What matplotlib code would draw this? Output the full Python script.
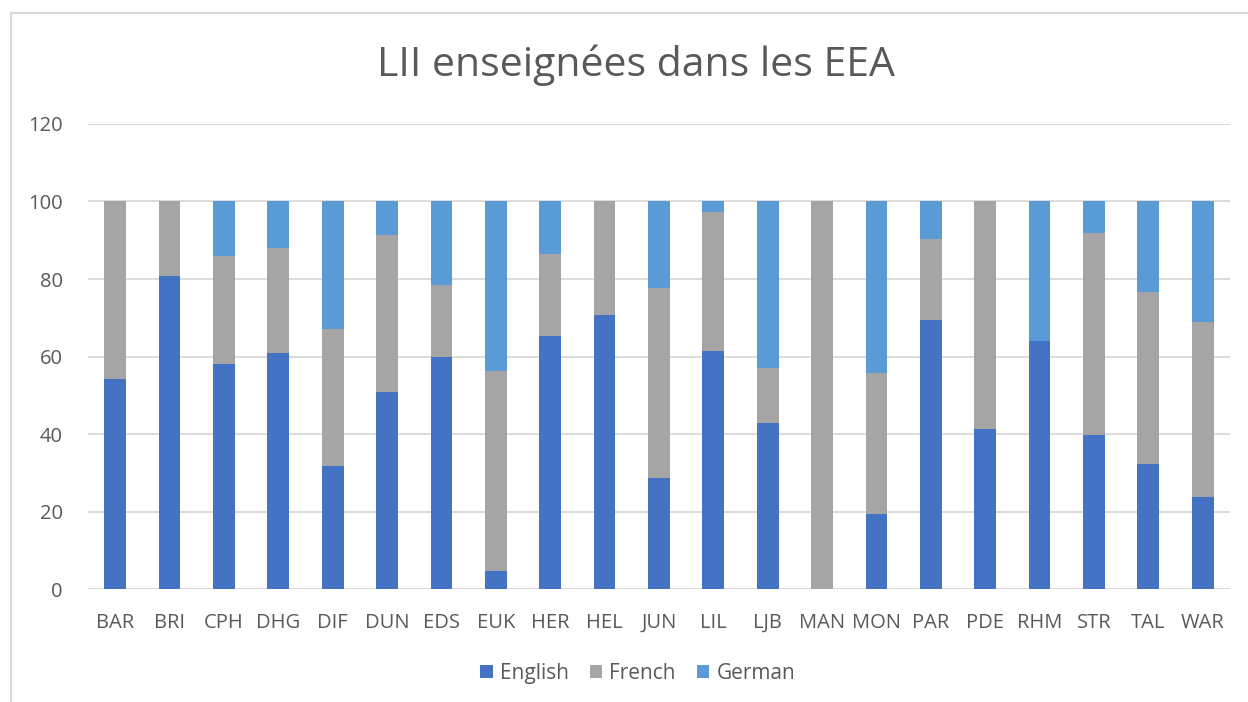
import numpy as np
from matplotlib import pyplot as plt
from matplotlib.lines import Line2D

sites = ['BAR', 'BRI', 'CPH', 'DHG', 'DIF', 'DUN', 'EDS', 'EUK', 'HER', 'HEL', 'JUN',
         'LIL', 'LJB', 'MAN', 'MON', 'PAR', 'PDE', 'RHM', 'STR', 'TAL', 'WAR']
english = [54.3, 80.9, 58.0, 60.9, 31.9, 51.0, 59.9, 4.7, 65.2, 70.8, 28.8,
           61.4, 43.0, 0.0, 19.3, 69.5, 41.4, 63.9, 39.9, 32.2, 23.9]
french = [45.7, 19.1, 28.0, 27.1, 35.2, 40.4, 18.5, 51.5, 21.2, 29.2, 48.8,
          35.9, 14.0, 100.0, 36.4, 20.8, 58.6, 0.0, 52.0, 44.4, 45.1]
german = [0.0, 0.0, 14.0, 12.0, 32.9, 8.6, 21.6, 43.8, 13.6, 0.0, 22.4,
          2.7, 43.0, 0.0, 44.3, 9.7, 0.0, 36.1, 8.1, 23.4, 31.0]

c_en = '#4472c4'
c_fr = '#a5a5a5'
c_de = '#5b9bd5'
txt = '#595959'

plt.rcParams['font.family'] = ['Open Sans', 'DejaVu Sans']

fig = plt.figure(figsize=(12.48, 7.02), dpi=100)
ax = fig.add_axes([0.0705, 0.1605, 0.915, 0.663])

x = np.arange(len(sites))
english = np.array(english)
french = np.array(french)
german = np.array(german)
w = 0.4
ax.bar(x, english, w, color=c_en, label='English', zorder=3)
ax.bar(x, french, w, bottom=english, color=c_fr, label='French', zorder=3)
ax.bar(x, german, w, bottom=english + french, color=c_de, label='German', zorder=3)

ax.set_xlim(-0.5, len(sites) - 0.5)
ax.set_ylim(0, 120)
ax.set_yticks(range(0, 121, 20))
ax.set_xticks(x)
ax.set_xticklabels(sites)
ax.grid(axis='y', color='#d9d9d9', linewidth=1.3, zorder=0)
for s in ax.spines.values():
    s.set_visible(False)
ax.tick_params(length=0, labelsize=14.5, colors=txt)
ax.tick_params(axis='x', pad=17)
ax.tick_params(axis='y', pad=18)

fig.text(0.5096, 0.907, 'LII enseignées dans les EEA', ha='center', va='center',
         fontsize=29.5, color=txt)

fig.legend(loc='center', bbox_to_anchor=(0.511, 0.041), ncol=3, frameon=False,
           fontsize=15, labelcolor=txt, handlelength=0.6, handleheight=0.6,
           handletextpad=0.35, columnspacing=1.0)

# chart border (top and left visible)
fig.add_artist(Line2D([11 / 1248, 11 / 1248], [0, 1 - 12.5 / 702], transform=fig.transFigure,
                      color='#d9d9d9', linewidth=1.5))
fig.add_artist(Line2D([11 / 1248, 1], [1 - 12.5 / 702, 1 - 12.5 / 702], transform=fig.transFigure,
                      color='#d9d9d9', linewidth=1.5))

plt.savefig('out.png', dpi=100)
